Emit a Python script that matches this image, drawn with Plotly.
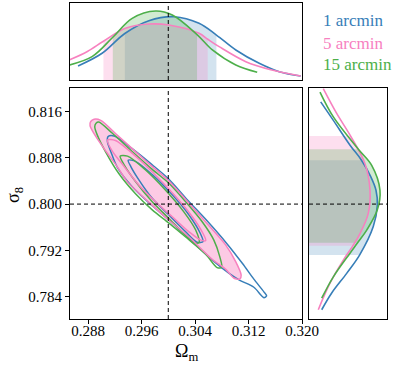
import plotly.graph_objects as go

BLUE = "#377eb8"
PINK = "#f781bf"
GREEN = "#4daf4a"

labels = ["1 arcmin", "5 arcmin", "15 arcmin"]
fid_om = 0.300
fid_s8 = 0.800
om_ticks = [0.288, 0.296, 0.304, 0.312, 0.320]
s8_ticks = [0.784, 0.792, 0.800, 0.808, 0.816]

# ---- 2D contours (vertices) ----
blue_out_om = [0.2910, 0.2919, 0.2946, 0.2976, 0.3001, 0.3028, 0.3058, 0.3088, 0.3111, 0.3128, 0.3143, 0.3147,
               0.3143, 0.3128, 0.3107, 0.3091, 0.3066, 0.3036, 0.3006, 0.2976, 0.2946, 0.2924, 0.2914, 0.2909, 0.2910]
blue_out_s8 = [0.8117, 0.8118, 0.8096, 0.8068, 0.8043, 0.8008, 0.7971, 0.7931, 0.7897, 0.7870, 0.7848, 0.7841,
               0.7838, 0.7856, 0.7868, 0.7880, 0.7903, 0.7935, 0.7967, 0.7997, 0.8030, 0.8063, 0.8091, 0.8108, 0.8117]
blue_in_om = [0.2940, 0.2951, 0.2976, 0.3006, 0.3031, 0.3048, 0.3052, 0.3043, 0.3026, 0.3001, 0.2976, 0.2956, 0.2944, 0.2940]
blue_in_s8 = [0.8076, 0.8074, 0.8051, 0.8016, 0.7981, 0.7949, 0.7935, 0.7934, 0.7952, 0.7981, 0.8010, 0.8042, 0.8065, 0.8076]

pink_out_om = [0.2884, 0.2889, 0.2899, 0.2924, 0.2949, 0.2974, 0.2999, 0.3026, 0.3056, 0.3086, 0.3101, 0.3109,
               0.3107, 0.3098, 0.3086, 0.3066, 0.3031, 0.3001, 0.2974, 0.2939, 0.2924, 0.2904, 0.2889, 0.2883, 0.2884]
pink_out_s8 = [0.8143, 0.8147, 0.8145, 0.8119, 0.8093, 0.8067, 0.8042, 0.8008, 0.7969, 0.7929, 0.7900, 0.7877,
               0.7870, 0.7872, 0.7887, 0.7904, 0.7943, 0.7972, 0.8000, 0.8038, 0.8064, 0.8096, 0.8122, 0.8136, 0.8143]
pink_in_om = [0.2909, 0.2921, 0.2951, 0.2981, 0.3011, 0.3036, 0.3052, 0.3056, 0.3048, 0.3031, 0.3006, 0.2981, 0.2956, 0.2934, 0.2916, 0.2909]
pink_in_s8 = [0.8111, 0.8110, 0.8083, 0.8050, 0.8013, 0.7978, 0.7949, 0.7937, 0.7938, 0.7952, 0.7978, 0.8004, 0.8033, 0.8065, 0.8092, 0.8111]

green_out_om = [0.2892, 0.2896, 0.2916, 0.2946, 0.2976, 0.3001, 0.3026, 0.3051, 0.3068, 0.3077, 0.3080,
                0.3073, 0.3056, 0.3026, 0.3001, 0.2976, 0.2951, 0.2926, 0.2906, 0.2894, 0.2890, 0.2892]
green_out_s8 = [0.8140, 0.8142, 0.8123, 0.8091, 0.8060, 0.8036, 0.8004, 0.7969, 0.7938, 0.7909, 0.7890,
                0.7890, 0.7913, 0.7943, 0.7967, 0.7990, 0.8018, 0.8053, 0.8091, 0.8119, 0.8134, 0.8140]
green_in_om = [0.2928, 0.2939, 0.2966, 0.2996, 0.3023, 0.3041, 0.3046, 0.3038, 0.3023, 0.3001, 0.2976, 0.2951, 0.2934, 0.2928]
green_in_s8 = [0.8083, 0.8083, 0.8059, 0.8024, 0.7987, 0.7955, 0.7933, 0.7933, 0.7949, 0.7975, 0.8004, 0.8039, 0.8068, 0.8083]

# ---- 1D marginals: Omega_m (top) ----
blue_om = [0.2865, 0.2901, 0.2935, 0.2971, 0.3009, 0.3046, 0.3072, 0.3101, 0.3136, 0.3166, 0.3198]
blue_p = [0.182, 0.347, 0.604, 0.770, 0.822, 0.736, 0.584, 0.390, 0.217, 0.108, 0.052]
pink_om = [0.2852, 0.2879, 0.2903, 0.2936, 0.2971, 0.3001, 0.3046, 0.3059, 0.3076, 0.3116, 0.3155, 0.3198]
pink_p = [0.260, 0.370, 0.503, 0.671, 0.727, 0.714, 0.606, 0.529, 0.433, 0.238, 0.130, 0.052]
green_om = [0.2852, 0.2886, 0.2917, 0.2946, 0.2981, 0.3006, 0.3043, 0.3066, 0.3101, 0.3133]
green_p = [0.195, 0.303, 0.555, 0.801, 0.896, 0.844, 0.590, 0.390, 0.195, 0.100]
om_band = {"blue": (0.2935, 0.3072), "pink": (0.2903, 0.3059), "green": (0.2917, 0.3043)}

# ---- 1D marginals: sigma_8 (right) ----
blue_s8 = [0.8177, 0.8145, 0.8102, 0.8076, 0.8048, 0.8024, 0.7998, 0.7961, 0.7912, 0.7880, 0.7846, 0.7817]
blue_q = [0.150, 0.312, 0.526, 0.673, 0.790, 0.859, 0.876, 0.824, 0.650, 0.483, 0.291, 0.163]
pink_s8 = [0.8200, 0.8157, 0.8118, 0.8070, 0.8024, 0.7984, 0.7949, 0.7928, 0.7903, 0.7863, 0.7817]
pink_q = [0.183, 0.355, 0.532, 0.718, 0.782, 0.760, 0.654, 0.564, 0.440, 0.269, 0.119]
green_s8 = [0.8194, 0.8151, 0.8095, 0.8067, 0.8024, 0.7990, 0.7955, 0.7933, 0.7915, 0.7874, 0.7837]
green_q = [0.141, 0.312, 0.633, 0.804, 0.910, 0.876, 0.740, 0.623, 0.526, 0.312, 0.163]
s8_band = {"blue": (0.7912, 0.8076), "pink": (0.7928, 0.8118), "green": (0.7933, 0.8095)}

colors = {"blue": BLUE, "pink": PINK, "green": GREEN}
rgba = {"blue": "rgba(55,126,184,0.22)", "pink": "rgba(247,129,191,0.25)", "green": "rgba(77,175,74,0.25)"}

FONT = '"Liberation Serif", "DejaVu Serif", serif'

W, H = 416, 368
def fx(px):
    return px / W
def fy(py):
    return 1 - py / H

fig = go.Figure()

top = {"blue": (blue_om, blue_p), "pink": (pink_om, pink_p), "green": (green_om, green_p)}
for k in ["blue", "pink", "green"]:
    xs, ys = top[k]
    lo, hi = om_band[k]
    bx = [x for x in xs if lo - 1e-9 <= x <= hi + 1e-9]
    by = [y for x, y in zip(xs, ys) if lo - 1e-9 <= x <= hi + 1e-9]
    fig.add_trace(go.Scatter(x=bx, y=by, xaxis="x2", yaxis="y2", mode="lines", fill="tozeroy",
                             fillcolor=rgba[k], line=dict(width=0, shape="spline"), hoverinfo="skip"))
for k in ["blue", "pink", "green"]:
    xs, ys = top[k]
    fig.add_trace(go.Scatter(x=xs, y=ys, xaxis="x2", yaxis="y2", mode="lines",
                             line=dict(color=colors[k], width=1.6, shape="spline"), hoverinfo="skip"))

right = {"blue": (blue_s8, blue_q), "pink": (pink_s8, pink_q), "green": (green_s8, green_q)}
for k in ["blue", "pink", "green"]:
    ys, xs = right[k]
    lo, hi = s8_band[k]
    by = [y for y in ys if lo - 1e-9 <= y <= hi + 1e-9]
    bx = [x for y, x in zip(ys, xs) if lo - 1e-9 <= y <= hi + 1e-9]
    fig.add_trace(go.Scatter(x=bx, y=by, xaxis="x3", yaxis="y3", mode="lines", fill="tozerox",
                             fillcolor=rgba[k], line=dict(width=0, shape="spline"), hoverinfo="skip"))
for k in ["blue", "pink", "green"]:
    ys, xs = right[k]
    fig.add_trace(go.Scatter(x=xs, y=ys, xaxis="x3", yaxis="y3", mode="lines",
                             line=dict(color=colors[k], width=1.6, shape="spline"), hoverinfo="skip"))

fig.add_trace(go.Scatter(x=pink_out_om, y=pink_out_s8, mode="lines", fill="toself",
                         fillcolor="rgba(247,129,191,0.42)", line=dict(width=0, shape="spline", smoothing=0.8),
                         hoverinfo="skip"))
for xs, ys, c in [(blue_out_om, blue_out_s8, BLUE), (blue_in_om, blue_in_s8, BLUE),
                  (green_out_om, green_out_s8, GREEN), (green_in_om, green_in_s8, GREEN),
                  (pink_out_om, pink_out_s8, PINK), (pink_in_om, pink_in_s8, PINK)]:
    fig.add_trace(go.Scatter(x=xs, y=ys, mode="lines",
                             line=dict(color=c, width=1.5, shape="spline", smoothing=0.8), hoverinfo="skip"))

main_x = [fx(70), fx(302)]
main_y = [fy(319), fy(88)]
om_range = [0.2853, 0.3200]
s8_range = [0.7801, 0.8201]

ax_common = dict(showline=True, mirror=True, linecolor="black", linewidth=1, showgrid=False,
                 zeroline=False, automargin=False)
fig.update_layout(
    width=W, height=H, margin=dict(l=0, r=0, t=0, b=0, autoexpand=False),
    paper_bgcolor="white", plot_bgcolor="white", showlegend=False,
    font=dict(family=FONT, size=15, color="black"),
    xaxis=dict(domain=main_x, range=om_range, anchor="y", tickvals=om_ticks,
               ticktext=[f"{v:.3f}" for v in om_ticks], ticks="outside", ticklen=4, tickcolor="black",
               ticklabelstandoff=-6, **ax_common),
    yaxis=dict(domain=main_y, range=s8_range, anchor="x", tickvals=s8_ticks,
               ticktext=[f"{v:.3f}" for v in s8_ticks], ticks="outside", ticklen=4, tickcolor="black",
               ticklabelstandoff=0, **ax_common),
    xaxis2=dict(domain=main_x, range=om_range, anchor="y2", showticklabels=False, ticks="", **ax_common),
    yaxis2=dict(domain=[fy(80), fy(3)], range=[0, 1.0], anchor="x2", showticklabels=False, ticks="", **ax_common),
    xaxis3=dict(domain=[fx(309), fx(387)], range=[0, 1.0], anchor="y3", showticklabels=False, ticks="", **ax_common),
    yaxis3=dict(domain=main_y, range=s8_range, anchor="x3", showticklabels=False, ticks="", **ax_common),
)

dash = dict(color="black", width=1, dash="4px,3px")
fig.add_shape(type="line", xref="x", yref="y domain", x0=fid_om, x1=fid_om, y0=0, y1=1, line=dash)
fig.add_shape(type="line", xref="x domain", yref="y", x0=0, x1=1, y0=fid_s8, y1=fid_s8, line=dash)
fig.add_shape(type="line", xref="x2", yref="y2 domain", x0=fid_om, x1=fid_om, y0=0, y1=1, line=dash)
fig.add_shape(type="line", xref="x3 domain", yref="y3", x0=0, x1=1, y0=fid_s8, y1=fid_s8, line=dash)

fig.add_annotation(text="Ω<sub>m</sub>", xref="paper", yref="paper", x=fx(186), y=fy(352),
                   showarrow=False, font=dict(size=18), xanchor="center", yanchor="middle")
fig.add_annotation(text="σ<sub>8</sub>", xref="paper", yref="paper", x=fx(14), y=fy(195),
                   showarrow=False, font=dict(size=18), textangle=-90, xanchor="center", yanchor="middle")

for lab, c, py in zip(labels, [BLUE, PINK, GREEN], [20, 43, 65]):
    fig.add_annotation(text=lab, xref="paper", yref="paper", x=fx(321), y=fy(py),
                       showarrow=False, font=dict(size=17, color=c), xanchor="left", yanchor="middle")

fig.write_html("out.html", config={"displayModeBar": False},
               post_script="document.body.style.margin='0';")
